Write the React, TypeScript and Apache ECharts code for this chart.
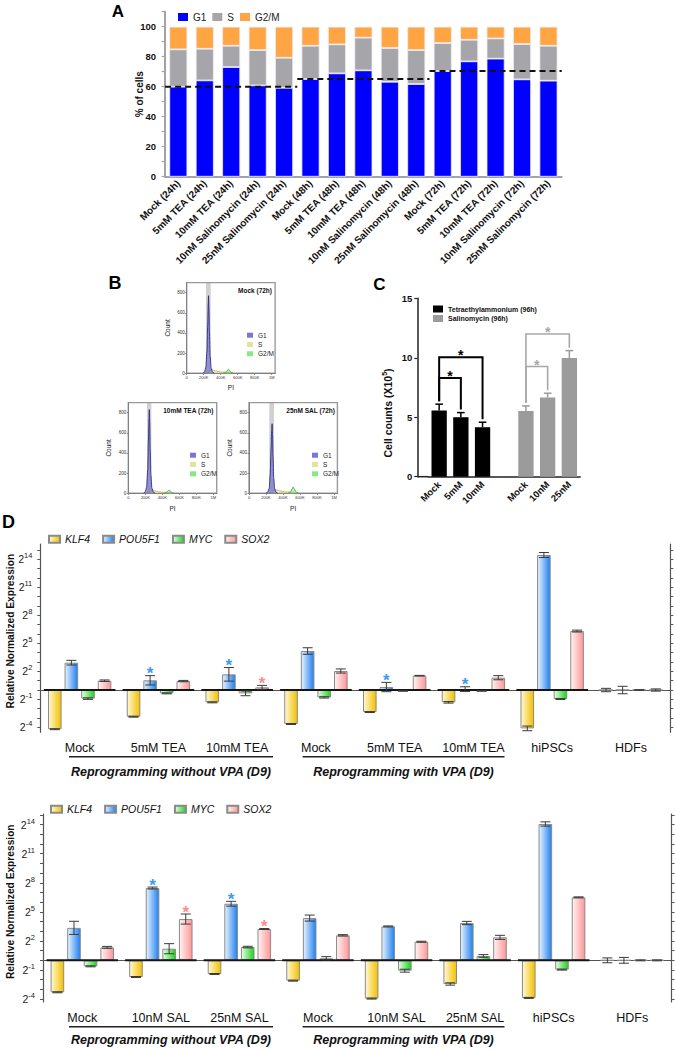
import React, { useEffect, useRef } from 'react';
import * as echarts from 'echarts';

const FONT = '"Liberation Sans", Arial, Helvetica, sans-serif';

/* ---------------- Panel A : cell-cycle distribution ---------------- */
const aTimepoints = ['24h', '48h', '72h'];
const aTreatments = ['Mock', '5mM TEA', '10mM TEA', '10nM Salinomycin', '25nM Salinomycin'];
const aCategories = aTimepoints.flatMap((t) => aTreatments.map((tr) => `${tr} (${t})`));
const aG1 = [60, 64.2, 73.1, 60.9, 59.3, 65.1, 68.9, 70.9, 63.3, 61.8, 70.4, 76.9, 78.7, 64.9, 64];
const aS = [24.9, 21.1, 14.2, 23.5, 20, 22.2, 19.3, 21.8, 22.5, 22.6, 18.7, 14.4, 13.5, 23.5, 23.3];
const aG2M = [15.1, 14.7, 12.7, 15.6, 20.7, 12.7, 11.8, 7.3, 14.2, 15.6, 10.9, 8.7, 7.8, 11.6, 12.7];
const aYLabels = [0, 20, 40, 60, 80, 100];

/* ---------------- Panel B : PI histograms (PI in K units, count) ---------------- */
const bTitles = ['Mock (72h)', '10mM TEA (72h)', '25nM SAL (72h)'];
const bG1 = [
  [[190, 0], [210, 15], [225, 60], [238, 220], [247, 480], [253, 690], [257, 770], [262, 640], [268, 400], [276, 170], [288, 50], [305, 10], [325, 0]],
  [[180, 0], [200, 15], [215, 60], [228, 230], [237, 520], [243, 740], [247, 830], [252, 700], [258, 430], [266, 180], [278, 50], [295, 10], [315, 0]],
  [[200, 0], [220, 12], [238, 50], [250, 200], [259, 440], [266, 620], [272, 690], [277, 580], [283, 360], [291, 150], [303, 40], [320, 8], [340, 0]],
];
const bS = [
  [[250, 0], [270, 25], [290, 38], [320, 30], [360, 20], [400, 14], [440, 12], [470, 10], [500, 6], [520, 0]],
  [[240, 0], [260, 25], [280, 35], [310, 26], [350, 16], [390, 12], [430, 10], [460, 8], [490, 5], [510, 0]],
  [[265, 0], [285, 25], [305, 40], [335, 32], [375, 22], [415, 16], [455, 14], [485, 12], [505, 6], [525, 0]],
];
const bG2M = [
  [[430, 0], [455, 8], [475, 25], [490, 40], [505, 28], [525, 8], [550, 0]],
  [[420, 0], [445, 8], [465, 22], [480, 33], [495, 22], [515, 6], [540, 0]],
  [[460, 0], [485, 12], [505, 40], [520, 62], [535, 40], [555, 10], [580, 0]],
];
const bGate = [[227, 282], [220, 271], [239, 294]];
const bXTicks = [0, 200, 400, 600, 800, 1000];
const bYTicks = [0, 200, 400, 600, 800];

/* ---------------- Panel C : cell counts ---------------- */
const cTEACats = ['Mock', '5mM', '10mM'];
const cSALCats = ['Mock', '10nM', '25nM'];
const cTEA = [5.56, 5.0, 4.16];
const cTEAErr = [0.54, 0.39, 0.42];
const cSAL = [5.53, 6.65, 9.97];
const cSALErr = [0.42, 0.37, 0.63];
const cTEABrackets = [[0, 1, 8.3], [0, 2, 10.05]];
const cSALBrackets = [[0, 1, 9.26], [0, 2, 12.0]];

/* ---------------- Panel D : qPCR (log2 relative expression) ---------------- */
const dGenes = ['KLF4', 'POU5F1', 'MYC', 'SOX2'];
const dTickExps = [-4, -3, -2, -1, 0, 1, 2, 3, 4, 5, 6, 7, 8, 9, 10, 11, 12, 13, 14, 15];
const dLabelExps = [-4, -1, 2, 5, 8, 11, 14];

const d1Categories = ['Mock', '5mM TEA', '10mM TEA', 'Mock', '5mM TEA', '10mM TEA', 'hiPSCs', 'HDFs'];
const d1KLF4 = [-4.2, -2.86, -1.32, -3.64, -2.36, -1.32, -4.11, 0];
const d1POU5F1 = [2.93, 1.04, 1.68, 4.18, 0.32, 0.1, 14.47, 0];
const d1MYC = [-0.92, -0.36, -0.36, -0.79, -0.1, -0.1, -0.96, 0];
const d1SOX2 = [1.0, 0.96, 0.29, 2.04, 1.54, 1.32, 6.32, 0];
const d1KLF4Err = [0.05, 0.05, 0.05, 0.05, 0.05, 0.08, 0.25, 0.18];
const d1POU5F1Err = [0.25, 0.5, 0.73, 0.35, 0.5, 0.25, 0.27, 0.4];
const d1MYCErr = [0.08, 0.05, 0.25, 0.07, 0.03, 0.03, 0.05, 0.04];
const d1SOX2Err = [0.08, 0.07, 0.21, 0.22, 0.03, 0.22, 0.1, 0.12];
const d1StarKLF4: number[] = [];
const d1StarPOU5F1 = [1, 2, 4, 5];
const d1StarMYC: number[] = [];
const d1StarSOX2 = [2];

const d2Categories = ['Mock', '10nM SAL', '25nM SAL', 'Mock', '10nM SAL', '25nM SAL', 'hiPSCs', 'HDFs'];
const d2KLF4 = [-3.3, -1.72, -1.41, -2.1, -3.95, -2.44, -3.88, 0];
const d2POU5F1 = [3.35, 7.46, 5.84, 4.36, 3.5, 3.85, 14.07, 0];
const d2MYC = [-0.62, 1.2, 1.37, 0.21, -1.07, 0.45, -0.96, 0];
const d2SOX2 = [1.34, 4.26, 3.23, 2.58, 1.92, 2.37, 6.5, 0];
const d2KLF4Err = [0.05, 0.05, 0.05, 0.05, 0.05, 0.12, 0.05, 0.25];
const d2POU5F1Err = [0.68, 0.1, 0.25, 0.31, 0.05, 0.17, 0.22, 0.3];
const d2MYCErr = [0.05, 0.52, 0.08, 0.17, 0.15, 0.14, 0.05, 0.05];
const d2SOX2Err = [0.1, 0.52, 0.05, 0.07, 0.05, 0.21, 0.05, 0.05];
const d2StarKLF4: number[] = [];
const d2StarPOU5F1 = [1, 2];
const d2StarMYC: number[] = [];
const d2StarSOX2 = [1, 2];

/* ---------------- styling constants ---------------- */
const GENE_LIGHT = ['#fff9d4', '#e8f3ff', '#e4ffe4', '#fff3f3'];
const GENE_DARK = ['#f2c000', '#1f80ef', '#1ed21e', '#ff9696'];
const STAR_COLORS = ['#e0b000', '#3a9bf4', '#30c030', '#ff8a8a'];
const D_BAR_W = 13.6;
const D_BAR_GAP = 0.22;
const D_CAP = 10;
const C_DROP = 0.25;

const grad = (k: number) =>
  new echarts.graphic.LinearGradient(0, 0, 1, 0, [
    { offset: 0, color: GENE_LIGHT[k] },
    { offset: 1, color: GENE_DARK[k] },
  ]);

function dBars(values: number[][], xIdx: number, yIdx: number) {
  return values.map((vals, k) => ({
    type: 'bar',
    name: dGenes[k],
    xAxisIndex: xIdx,
    yAxisIndex: yIdx,
    data: vals,
    barWidth: D_BAR_W,
    barGap: `${D_BAR_GAP * 100}%`,
    z: 2,
    itemStyle: { color: grad(k), borderColor: '#8a8a8a', borderWidth: 1 },
  }));
}

function dBaseline(values: number[][], xIdx: number, yIdx: number) {
  const cats = values[0].map((_, i) => i).filter((i) => values.some((v) => v[i] !== 0));
  return {
    type: 'custom',
    xAxisIndex: xIdx,
    yAxisIndex: yIdx,
    z: 3,
    silent: true,
    data: cats.map((i) => [i, 0]),
    renderItem: (_p: any, api: any) => {
      const c = api.coord([api.value(0), 0]);
      const bw = api.size([1, 0])[0];
      return {
        type: 'line',
        shape: { x1: c[0] - bw * 0.455, y1: c[1], x2: c[0] + bw * 0.455, y2: c[1] },
        style: { stroke: '#151515', lineWidth: 2 },
      };
    },
  };
}

function dErr(vals: number[], errs: number[], stars: number[], k: number, xIdx: number, yIdx: number) {
  const off = (k - (dGenes.length - 1) / 2) * D_BAR_W * (1 + D_BAR_GAP);
  return {
    type: 'custom',
    xAxisIndex: xIdx,
    yAxisIndex: yIdx,
    z: 4,
    silent: true,
    data: vals.map((v, i) => [i, v - errs[i], v + errs[i], stars.includes(i) ? 1 : 0]),
    renderItem: (_p: any, api: any) => {
      const i = api.value(0);
      const x = api.coord([i, 0])[0] + off;
      const yLo = api.coord([i, api.value(1)])[1];
      const yHi = api.coord([i, api.value(2)])[1];
      const h = D_CAP / 2;
      const st = { stroke: '#3a3a3a', lineWidth: 1 };
      const children: any[] = [
        { type: 'line', shape: { x1: x, y1: yLo, x2: x, y2: yHi }, style: st },
        { type: 'line', shape: { x1: x - h, y1: yLo, x2: x + h, y2: yLo }, style: st },
        { type: 'line', shape: { x1: x - h, y1: yHi, x2: x + h, y2: yHi }, style: st },
      ];
      if (api.value(3)) {
        children.push({
          type: 'text',
          style: {
            text: '*', x, y: yHi - 2, textAlign: 'center', textVerticalAlign: 'middle',
            fill: STAR_COLORS[k], font: `bold 17px ${FONT}`,
          },
        });
      }
      return { type: 'group', children };
    },
  };
}

function cErr(vals: number[], errs: number[], start: number, color: string) {
  return {
    type: 'custom', xAxisIndex: 5, yAxisIndex: 4, z: 4, silent: true,
    data: vals.map((v, j) => [start + j, v, v + errs[j]]),
    renderItem: (_p: any, api: any) => {
      const i = api.value(0);
      const x = api.coord([i, 0])[0];
      const y1 = api.coord([i, api.value(1)])[1];
      const y2 = api.coord([i, api.value(2)])[1];
      const st = { stroke: color, lineWidth: 1.5 };
      return {
        type: 'group',
        children: [
          { type: 'line', shape: { x1: x, y1, x2: x, y2 }, style: st },
          { type: 'line', shape: { x1: x - 3.8, y1: y2, x2: x + 3.8, y2 }, style: st },
        ],
      };
    },
  };
}

function cBrackets(br: number[][], vals: number[], errs: number[], start: number, color: string, width: number) {
  return {
    type: 'custom', xAxisIndex: 5, yAxisIndex: 4, z: 5, silent: true,
    data: br.map(([a, b, level]) => [start + a, level, start + b, vals[a] + errs[a] + C_DROP, vals[b] + errs[b] + C_DROP]),
    renderItem: (_p: any, api: any) => {
      const xa = api.coord([api.value(0), 0])[0];
      const xb = api.coord([api.value(2), 0])[0];
      const yl = api.coord([api.value(0), api.value(1)])[1];
      const ya = api.coord([api.value(0), api.value(3)])[1];
      const yb = api.coord([api.value(0), api.value(4)])[1];
      return {
        type: 'group',
        children: [
          { type: 'polyline', shape: { points: [[xa, ya], [xa, yl], [xb, yl], [xb, yb]] }, style: { stroke: color, lineWidth: width, fill: 'none' } },
          { type: 'text', style: { text: '*', x: (xa + xb) / 2, y: yl - 1.8, textAlign: 'center', textVerticalAlign: 'middle', fill: color, font: `bold 14px ${FONT}` } },
        ],
      };
    },
  };
}

function buildOption(): any {
  const cCategories = [...cTEACats, '', ...cSALCats];
  const salStart = cTEACats.length + 1;
  const teaData = cCategories.map((_, i) => (i < cTEA.length ? cTEA[i] : '-'));
  const salData = cCategories.map((_, i) => (i >= salStart ? cSAL[i - salStart] : '-'));

  const d1Vals = [d1KLF4, d1POU5F1, d1MYC, d1SOX2];
  const d1Errs = [d1KLF4Err, d1POU5F1Err, d1MYCErr, d1SOX2Err];
  const d1Stars = [d1StarKLF4, d1StarPOU5F1, d1StarMYC, d1StarSOX2];
  const d2Vals = [d2KLF4, d2POU5F1, d2MYC, d2SOX2];
  const d2Errs = [d2KLF4Err, d2POU5F1Err, d2MYCErr, d2SOX2Err];
  const d2Stars = [d2StarKLF4, d2StarPOU5F1, d2StarMYC, d2StarSOX2];

  const bGrids = [
    { left: 186.7, top: 282.6 },
    { left: 128.3, top: 402.6 },
    { left: 249, top: 402.6 },
  ];
  const bNameGap = [10.5, 11.7, 11.7];

  const grid: any[] = [
    { left: 165.1, top: 11.7, width: 396.6, height: 165 },
    ...bGrids.map((g) => ({ ...g, width: 88.4, height: 90.7, show: true, borderColor: '#9a9a9a', borderWidth: 1.4, backgroundColor: 'transparent' })),
    { left: 428.3, top: 298.3, width: 151.9, height: 178.4 },
    { left: 40.3, top: 544, width: 630, height: 188.3 },
    { left: 43, top: 814, width: 628.5, height: 188 },
  ].map((g) => ({ ...g, outerBoundsMode: 'none' }));

  const dXAxis = (gridIndex: number, data: string[]) => [
    {
      type: 'category', gridIndex, data, position: 'bottom',
      axisLine: { lineStyle: { color: '#555', width: 1.2 } },
      axisTick: { alignWithLabel: true, length: 4, lineStyle: { color: '#555' } },
      axisLabel: { interval: 0, fontSize: 12.5, color: '#111', margin: 9 },
    },
    {
      type: 'category', gridIndex, data, position: 'top',
      axisLine: { lineStyle: { color: '#555', width: 1.2 } },
      axisTick: { alignWithLabel: true, inside: true, length: 3, lineStyle: { color: '#555' } },
      axisLabel: { show: false },
    },
  ];

  const dYAxis = (gridIndex: number, min: number, max: number, nameGap: number, pad: number) => [
    {
      type: 'value', gridIndex, min, max,
      name: 'Relative Normalized Expression', nameLocation: 'middle', nameRotate: 90, nameGap, nameMoveOverlap: false,
      nameTextStyle: { fontWeight: 'bold', fontSize: 10.2, color: '#111', padding: [0, 0, 0, pad] },
      axisLine: { show: true, lineStyle: { color: '#555', width: 1.2 } },
      axisTick: { show: true, customValues: dTickExps, length: 3, lineStyle: { color: '#555' } },
      axisLabel: {
        customValues: dLabelExps, margin: 8,
        formatter: (v: number) => `{b|2}{s|${v}}`,
        rich: { b: { fontSize: 10.5, color: '#222' }, s: { fontSize: 7.5, color: '#222', padding: [0, 0, 7, 0] } },
      },
      splitLine: { show: false },
    },
    {
      type: 'value', gridIndex, min, max, position: 'right',
      axisLine: { show: true, lineStyle: { color: '#555', width: 1.2 } },
      axisTick: { show: true, customValues: dTickExps, length: 3, lineStyle: { color: '#555' } },
      axisLabel: { show: false },
      splitLine: { show: false },
    },
  ];

  const xAxis: any[] = [
    {
      type: 'category', gridIndex: 0, data: aCategories,
      axisLine: { lineStyle: { color: '#a3a3a3', width: 2 } },
      axisTick: { alignWithLabel: true, length: 4, lineStyle: { color: '#a3a3a3', width: 1.2 } },
      axisLabel: { interval: 0, rotate: 45, fontSize: 10, fontWeight: 'bold', color: '#111', margin: 5 },
    },
    { type: 'value', gridIndex: 0, min: 0, max: aCategories.length, show: false },
    ...bGrids.map((_, k) => ({
      type: 'value', gridIndex: k + 1, min: 0, max: 1040,
      name: 'PI', nameLocation: 'middle', nameGap: bNameGap[k], nameMoveOverlap: false, nameTextStyle: { fontSize: 6.5, color: '#222' },
      axisLine: { onZero: false, lineStyle: { color: '#808080', width: 1 } },
      axisTick: { customValues: bXTicks, length: 1.5, lineStyle: { color: '#808080' } },
      axisLabel: {
        customValues: bXTicks, fontSize: 4, color: '#333', margin: 2,
        formatter: (v: number) => (v === 0 ? '0' : v >= 1000 ? `${v / 1000}M` : `${v}K`),
      },
      splitLine: { show: false },
    })),
    {
      type: 'category', gridIndex: 4, data: cCategories,
      axisLine: { lineStyle: { color: '#222', width: 1.5 } },
      axisTick: { alignWithLabel: true, length: 4, interval: (i: number) => cCategories[i] !== '', lineStyle: { color: '#222', width: 1.2 } },
      axisLabel: { interval: 0, rotate: 45, fontSize: 9.5, fontWeight: 'bold', color: '#111', margin: 6 },
    },
    ...dXAxis(5, d1Categories),
    ...dXAxis(6, d2Categories),
  ];
  // xAxis indices: 0 A cat, 1 A value, 2-4 B, 5 C, 6-7 D1, 8-9 D2

  const yAxis: any[] = [
    {
      type: 'value', gridIndex: 0, min: 0, max: 110, interval: 10, offset: 5,
      name: '% of cells', nameLocation: 'middle', nameRotate: 90, nameGap: 16, nameMoveOverlap: false,
      nameTextStyle: { fontWeight: 'bold', fontSize: 10, color: '#111' },
      axisLine: { show: true, lineStyle: { color: '#a3a3a3', width: 2 } },
      axisTick: { show: true, length: 3.5, lineStyle: { color: '#a3a3a3', width: 1.2 } },
      axisLabel: { customValues: aYLabels, fontWeight: 'bold', fontSize: 9.5, color: '#111', margin: 4 },
      splitLine: { show: false },
    },
    ...bGrids.map((_, k) => ({
      type: 'value', gridIndex: k + 1, min: 0, max: 900,
      name: 'Count', nameLocation: 'middle', nameRotate: 90, nameGap: 16, nameMoveOverlap: false, nameTextStyle: { fontSize: 6.5, color: '#222' },
      axisLine: { show: true, onZero: false, lineStyle: { color: '#808080', width: 1 } },
      axisTick: { show: true, customValues: bYTicks, length: 1.5, lineStyle: { color: '#808080' } },
      axisLabel: { customValues: bYTicks, fontSize: 4.5, color: '#333', margin: 2 },
      splitLine: { show: false },
    })),
    {
      type: 'value', gridIndex: 4, min: 0, max: 15, interval: 5, offset: 11,
      name: '{a|Cell counts (X10}{s|5}{a|)}', nameLocation: 'middle', nameRotate: 90, nameGap: 23, nameMoveOverlap: false,
      nameTextStyle: {
        padding: [0, 51, 0, 0],
        rich: {
          a: { fontSize: 10.5, fontWeight: 'bold', color: '#111' },
          s: { fontSize: 7, fontWeight: 'bold', color: '#111', padding: [0, 0, 6, 0] },
        },
      },
      axisLine: { show: true, lineStyle: { color: '#222', width: 1.5 } },
      axisTick: { show: true, length: 3, lineStyle: { color: '#222', width: 1.2 } },
      axisLabel: { fontWeight: 'bold', fontSize: 9.5, color: '#111', margin: 5 },
      splitLine: { show: false },
    },
    ...dYAxis(5, -4.53, 15.65, 25, 14),
    ...dYAxis(6, -4.3, 15.1, 28, 12.6),
  ];
  // yAxis indices: 0 A, 1-3 B, 4 C, 5-6 D1, 7-8 D2

  const series: any[] = [
    { type: 'bar', name: 'G1', xAxisIndex: 0, yAxisIndex: 0, stack: 'a', data: aG1, barWidth: 18, itemStyle: { color: '#0000ff', borderColor: '#ececf4', borderWidth: 0.8 } },
    { type: 'bar', name: 'S', xAxisIndex: 0, yAxisIndex: 0, stack: 'a', data: aS, barWidth: 18, itemStyle: { color: '#a5a5aa', borderColor: '#ececf4', borderWidth: 0.8 } },
    { type: 'bar', name: 'G2/M', xAxisIndex: 0, yAxisIndex: 0, stack: 'a', data: aG2M, barWidth: 18, itemStyle: { color: '#ffa544', borderColor: '#ececf4', borderWidth: 0.8 } },
    ...aTimepoints.map((_, t) => ({
      type: 'line', xAxisIndex: 1, yAxisIndex: 0, z: 5, symbol: 'none', silent: true,
      data: [[t * aTreatments.length, aG1[t * aTreatments.length]], [(t + 1) * aTreatments.length, aG1[t * aTreatments.length]]],
      lineStyle: { color: '#111', width: 2, type: [6, 4] },
    })),
  ];

  bGrids.forEach((_, k) => {
    series.push(
      {
        type: 'line', name: 'S', xAxisIndex: 2 + k, yAxisIndex: 1 + k, data: bS[k], smooth: 0.3, smoothMonotone: 'x', symbol: 'none', z: 2, silent: true,
        lineStyle: { color: '#b5b55a', width: 0.8 }, areaStyle: { color: 'rgba(226,226,150,0.85)' },
        markArea: { silent: true, itemStyle: { color: 'rgba(150,150,150,0.45)' }, data: [[{ xAxis: bGate[k][0] }, { xAxis: bGate[k][1] }]] },
      },
      {
        type: 'line', name: 'G2/M', xAxisIndex: 2 + k, yAxisIndex: 1 + k, data: bG2M[k], smooth: 0.3, smoothMonotone: 'x', symbol: 'none', z: 2, silent: true,
        lineStyle: { color: '#35a535', width: 0.8 }, areaStyle: { color: 'rgba(120,232,120,0.85)' },
      },
      {
        type: 'line', name: 'G1', xAxisIndex: 2 + k, yAxisIndex: 1 + k, data: bG1[k], smooth: 0.3, smoothMonotone: 'x', symbol: 'none', z: 3, silent: true,
        lineStyle: { color: '#1c1c7a', width: 0.8 }, areaStyle: { color: 'rgba(95,95,205,0.8)' },
      },
    );
  });

  series.push(
    { type: 'bar', name: 'Tetraethylammonium (96h)', xAxisIndex: 5, yAxisIndex: 4, stack: 'c', data: teaData, barWidth: 15.3, itemStyle: { color: '#000' } },
    { type: 'bar', name: 'Salinomycin (96h)', xAxisIndex: 5, yAxisIndex: 4, stack: 'c', data: salData, barWidth: 15.3, itemStyle: { color: '#9b9b9b' } },
    cErr(cTEA, cTEAErr, 0, '#000'),
    cErr(cSAL, cSALErr, salStart, '#9b9b9b'),
    cBrackets(cTEABrackets, cTEA, cTEAErr, 0, '#000', 2),
    cBrackets(cSALBrackets, cSAL, cSALErr, salStart, '#a8a8a8', 1.6),
  );

  series.push(...dBars(d1Vals, 6, 5), dBaseline(d1Vals, 6, 5));
  d1Vals.forEach((v, k) => series.push(dErr(v, d1Errs[k], d1Stars[k], k, 6, 5)));
  series.push(...dBars(d2Vals, 8, 7), dBaseline(d2Vals, 8, 7));
  d2Vals.forEach((v, k) => series.push(dErr(v, d2Errs[k], d2Stars[k], k, 8, 7)));

  const bLegendPos = [
    { left: 242, top: 326.7 },
    { left: 185, top: 446.7 },
    { left: 307, top: 446.7 },
  ];
  const legend: any[] = [
    {
      left: 173, top: 7, itemWidth: 10, itemHeight: 8, itemGap: 6, icon: 'rect', selectedMode: false,
      textStyle: { fontSize: 10, color: '#222' },
      data: [
        { name: 'G1', itemStyle: { color: '#0000ff', borderWidth: 0 } },
        { name: 'S', itemStyle: { color: '#a5a5aa', borderWidth: 0 } },
        { name: 'G2/M', itemStyle: { color: '#ffa544', borderWidth: 0 } },
      ],
    },
    ...bLegendPos.map((p) => ({
      ...p, orient: 'vertical', itemWidth: 6, itemHeight: 5, itemGap: 2.3, icon: 'rect', selectedMode: false,
      textStyle: { fontSize: 6.5, color: '#222' },
      data: [
        { name: 'G1', itemStyle: { color: 'rgba(95,95,205,0.85)', borderWidth: 0 } },
        { name: 'S', itemStyle: { color: 'rgba(226,226,150,0.95)', borderWidth: 0 } },
        { name: 'G2/M', itemStyle: { color: 'rgba(120,232,120,0.9)', borderWidth: 0 } },
      ],
    })),
    {
      left: 428, top: 300.5, orient: 'vertical', itemWidth: 10, itemHeight: 7, itemGap: 2.5, icon: 'rect', selectedMode: false,
      textStyle: { fontSize: 7, fontWeight: 'bold', color: '#111' },
      data: ['Tetraethylammonium (96h)', 'Salinomycin (96h)'],
    },
    {
      left: 43, top: 528.7, itemWidth: 11, itemHeight: 7, itemGap: 12, icon: 'rect', selectedMode: false,
      textStyle: { fontSize: 10.5, fontStyle: 'italic', color: '#111' }, data: dGenes,
    },
    {
      left: 45, top: 798.8, itemWidth: 11, itemHeight: 7, itemGap: 12, icon: 'rect', selectedMode: false,
      textStyle: { fontSize: 10.5, fontStyle: 'italic', color: '#111' }, data: dGenes,
    },
  ];

  const letter = (t: string, x: number, y: number, size: number) => ({
    type: 'text', x, y, silent: true,
    style: { text: t, textAlign: 'center', textVerticalAlign: 'middle', font: `bold ${size}px ${FONT}`, fill: '#000' },
  });
  const bTitlePos = [[272, 290.7], [213.5, 410.7], [335, 410.7]];
  const caption = (t: string, x: number, y: number) => ({
    type: 'text', x, y, silent: true,
    style: { text: t, textAlign: 'center', textVerticalAlign: 'middle', font: `italic bold 12.5px ${FONT}`, fill: '#111' },
  });
  const uline = (x1: number, x2: number, y: number) => ({
    type: 'line', silent: true, shape: { x1, y1: y, x2, y2: y }, style: { stroke: '#222', lineWidth: 1.5 },
  });

  const graphic: any[] = [
    letter('A', 118, 11, 17),
    letter('B', 115, 283.3, 18),
    letter('C', 379.5, 284, 17),
    letter('D', 8.5, 522, 18),
    ...bTitles.map((t, k) => ({
      type: 'text', x: bTitlePos[k][0], y: bTitlePos[k][1], silent: true,
      style: { text: t, textAlign: 'right', textVerticalAlign: 'middle', font: `bold 6.5px ${FONT}`, fill: '#111' },
    })),
    { type: 'line', silent: true, shape: { x1: 417.3, y1: 476.7, x2: 428.3, y2: 476.7 }, style: { stroke: '#222', lineWidth: 1.5 } },
    uline(69, 273, 756.7),
    uline(302.6, 504.5, 756.7),
    caption('Reprogramming without VPA (D9)', 171, 771.7),
    caption('Reprogramming with VPA (D9)', 403.5, 771.7),
    uline(69, 273, 1026.7),
    uline(302.6, 504.5, 1026.7),
    caption('Reprogramming without VPA (D9)', 171, 1040),
    caption('Reprogramming with VPA (D9)', 403.5, 1040),
  ];

  return {
    animation: false,
    backgroundColor: '#fff',
    textStyle: { fontFamily: FONT },
    grid,
    xAxis,
    yAxis,
    legend,
    series,
    graphic,
  };
}

export default function App() {
  const ref = useRef<HTMLDivElement>(null);
  useEffect(() => {
    if (!ref.current) return;
    const chart = echarts.init(ref.current, null, { renderer: 'svg' });
    chart.setOption(buildOption());
    return () => chart.dispose();
  }, []);
  return (
    <div
      ref={ref}
      style={{ position: 'absolute', left: 0, top: 0, width: 675, height: 1049, background: '#fff' }}
    />
  );
}
